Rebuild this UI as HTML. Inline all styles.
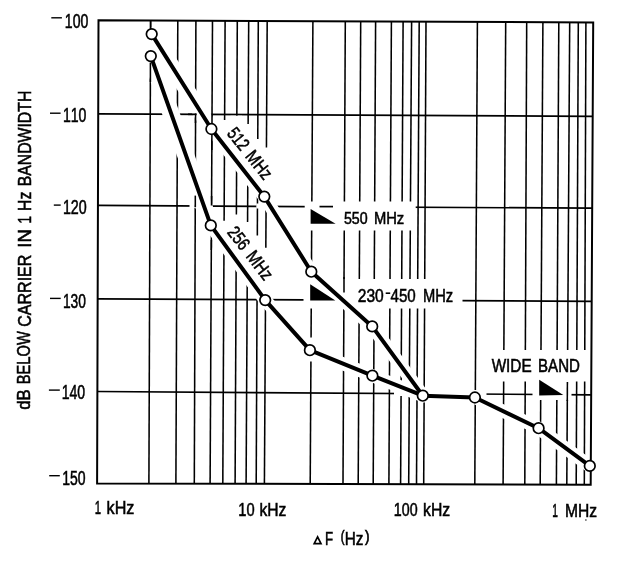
<!DOCTYPE html>
<html><head><meta charset="utf-8"><title>Phase noise</title>
<style>html,body{margin:0;padding:0;background:#fff;}body{width:617px;height:568px;overflow:hidden;font-family:"Liberation Sans",sans-serif;}svg{display:block;filter:grayscale(1);}text{font-family:"Liberation Sans",sans-serif;fill:#000;font-kerning:none;}</style>
</head><body>
<svg width="617" height="568" viewBox="0 0 617 568">
<rect x="0" y="0" width="617" height="568" fill="#fff"/>
<g stroke="#000" stroke-width="1.55" fill="none" stroke-linecap="butt">
<line x1="150.6" y1="20.4" x2="148.9" y2="483.5"/>
<line x1="177.8" y1="20.6" x2="175.9" y2="483.6"/>
<line x1="195.9" y1="20.6" x2="194.3" y2="483.7"/>
<line x1="212.5" y1="20.7" x2="210.1" y2="483.7"/>
<line x1="225.1" y1="20.8" x2="222.8" y2="483.7"/>
<line x1="237.3" y1="20.8" x2="235.1" y2="483.8"/>
<line x1="248.7" y1="20.9" x2="246.1" y2="483.8"/>
<line x1="258.3" y1="20.9" x2="256.2" y2="483.8"/>
<line x1="267.2" y1="21.0" x2="264.4" y2="483.8"/>
<line x1="312.9" y1="21.2" x2="310.2" y2="484.0"/>
<line x1="345.3" y1="21.3" x2="343.0" y2="484.0"/>
<line x1="360.7" y1="21.4" x2="358.2" y2="484.1"/>
<line x1="375.6" y1="21.4" x2="373.2" y2="484.1"/>
<line x1="391.4" y1="21.5" x2="388.9" y2="484.2"/>
<line x1="403.1" y1="21.6" x2="400.6" y2="484.2"/>
<line x1="411.6" y1="21.6" x2="408.7" y2="484.2"/>
<line x1="419.2" y1="21.6" x2="416.5" y2="484.2"/>
<line x1="426.0" y1="21.7" x2="423.7" y2="484.3"/>
<line x1="477.4" y1="21.9" x2="474.8" y2="484.4"/>
<line x1="505.7" y1="22.0" x2="503.1" y2="484.5"/>
<line x1="526.7" y1="22.1" x2="524.8" y2="484.5"/>
<line x1="542.9" y1="22.2" x2="540.2" y2="484.6"/>
<line x1="558.8" y1="22.3" x2="556.4" y2="484.6"/>
<line x1="569.7" y1="22.3" x2="566.8" y2="484.6"/>
<line x1="578.3" y1="22.3" x2="576.2" y2="484.7"/>
<line x1="585.9" y1="22.4" x2="584.3" y2="484.7"/>
<line x1="98.2" y1="113.8" x2="592.7" y2="116.4" stroke-width="1.7"/>
<line x1="97.9" y1="205.4" x2="592.2" y2="208.2" stroke-width="1.7"/>
<line x1="97.7" y1="298.9" x2="591.7" y2="301.3" stroke-width="1.7"/>
<line x1="97.4" y1="391.5" x2="591.2" y2="394.8" stroke-width="1.7"/>
</g>
<g stroke="#fff" fill="none" stroke-linejoin="round" stroke-linecap="round" stroke-width="13">
<polyline points="151.7,34.1 211.4,129.0 264.3,196.6 311.3,271.7 372.2,326.4 422.8,395.7"/>
<polyline points="150.8,56.1 210.8,225.4 265.2,300.1 309.9,350.2 372.4,375.7 422.8,395.7"/>
<polyline points="422.8,395.7 474.9,397.5 538.6,428.2 589.8,465.9"/>
<polyline points="156.0,41.0 205.0,119.0" stroke-width="16"/>
<polyline points="153.0,63.0 208.0,218.0" stroke-width="17"/>
</g>
<g fill="#fff" stroke="none">
<polygon points="218.5,120 230.5,120 230.5,115.8 242,115.8 242,124 253,124 253,139 262,139 262,147.5 272,147.5 272,203 218.5,138"/>
<polygon points="218,220.7 230,220.7 230,214.5 242,214.5 242,222 252,222 252,235.5 261.5,235.5 261.5,247.8 270,247.8 270,296 218,232"/>
<rect x="394" y="390" width="92.5" height="6"/>
<rect x="189.5" y="203" width="5.2" height="5"/>
<rect x="256.3" y="203.5" width="8.2" height="5"/>
<rect x="370" y="306" width="8" height="16"/>
<rect x="306" y="337.5" width="9" height="6"/>
<rect x="147.5" y="40" width="6.5" height="10.5"/>
<rect x="306" y="356" width="9" height="5.5"/>
<rect x="304.7" y="201.5" width="111" height="29"/>
<rect x="303.5" y="279" width="159" height="29.5"/>
<rect x="486" y="350" width="100" height="31.5"/>
<rect x="532.5" y="378" width="39" height="22"/>
</g>
<g stroke="#000" stroke-width="1.7">
<line x1="319.5" y1="206.6" x2="333" y2="206.6"/>
<line x1="567.4" y1="382.0" x2="567.3" y2="401.0" stroke-width="1.55"/>
<line x1="150.6" y1="21.0" x2="150.6" y2="29.0" stroke-width="1.55"/>
<line x1="150.4" y1="62.5" x2="150.4" y2="82.0" stroke-width="1.55"/>
<line x1="212.0" y1="114.0" x2="212.0" y2="124.0" stroke-width="1.55"/>
<line x1="211.9" y1="134.0" x2="211.8" y2="150.0" stroke-width="1.55"/>
<line x1="211.6" y1="196.0" x2="211.5" y2="205.5" stroke-width="1.55"/>
<line x1="211.4" y1="240.0" x2="211.3" y2="250.0" stroke-width="1.55"/>
<line x1="195.3" y1="195.6" x2="195.3" y2="207.0" stroke-width="1.55"/>
<line x1="344.0" y1="277.0" x2="344.0" y2="292.5" stroke-width="1.55"/>
<line x1="195.6" y1="113.6" x2="195.5" y2="123.0" stroke-width="1.55"/>
<line x1="188" y1="114.3" x2="196.6" y2="114.3" stroke-width="1.7"/>
</g>
<g stroke="#000" stroke-width="2" fill="none" stroke-linejoin="miter">
<polygon points="98.5,20.2 593.2,22.4 590.7,484.7 97.1,483.4"/>
</g>
<g stroke="#000" fill="none" stroke-width="4.0" stroke-linejoin="round" stroke-linecap="butt">
<polyline points="151.7,34.1 211.4,129.0 264.3,196.6 311.3,271.7 372.2,326.4 422.8,395.7"/>
<polyline points="150.8,56.1 210.8,225.4 265.2,300.1 309.9,350.2 372.4,375.7 422.8,395.7"/>
<polyline points="422.8,395.7 474.9,397.5 538.6,428.2 589.8,465.9"/>
</g>
<g stroke="#000" fill="#fff" stroke-width="1.7">
<circle cx="151.7" cy="34.1" r="5.3"/>
<circle cx="211.4" cy="129.0" r="5.3"/>
<circle cx="264.3" cy="196.6" r="5.3"/>
<circle cx="311.3" cy="271.7" r="5.3"/>
<circle cx="372.2" cy="326.4" r="5.3"/>
<circle cx="422.8" cy="395.7" r="5.3"/>
<circle cx="150.8" cy="56.1" r="5.3"/>
<circle cx="210.8" cy="225.4" r="5.3"/>
<circle cx="265.2" cy="300.1" r="5.3"/>
<circle cx="309.9" cy="350.2" r="5.3"/>
<circle cx="372.4" cy="375.7" r="5.3"/>
<circle cx="474.9" cy="397.5" r="5.3"/>
<circle cx="538.6" cy="428.2" r="5.3"/>
<circle cx="589.8" cy="465.9" r="5.3"/>
</g>
<g fill="#000" stroke="none">
<polygon points="310.6,209 310.6,223.8 335.6,223.8"/>
<polygon points="310.2,284.2 310.2,300.4 335.3,300.4"/>
<polygon points="539.2,379.7 539.2,395.6 563.3,395.1"/>
</g>
<text x="64.83" y="27.6" font-size="19.6" textLength="23.52" lengthAdjust="spacingAndGlyphs" stroke="#000" stroke-width="0.55" >100</text>
<line x1="51.3" y1="17.8" x2="61.9" y2="17.8" stroke="#000" stroke-width="1.4"/>
<text x="62.93" y="122.4" font-size="19.6" textLength="23.52" lengthAdjust="spacingAndGlyphs" stroke="#000" stroke-width="0.55" >110</text>
<line x1="50.0" y1="113.2" x2="60.6" y2="113.2" stroke="#000" stroke-width="1.4"/>
<text x="62.91" y="214.4" font-size="19.6" textLength="23.85" lengthAdjust="spacingAndGlyphs" stroke="#000" stroke-width="0.55" >120</text>
<line x1="53.8" y1="205.1" x2="60.7" y2="205.1" stroke="#000" stroke-width="1.4"/>
<text x="62.95" y="307.6" font-size="19.6" textLength="22.99" lengthAdjust="spacingAndGlyphs" stroke="#000" stroke-width="0.55" >130</text>
<line x1="50.0" y1="298.4" x2="60.7" y2="298.4" stroke="#000" stroke-width="1.4"/>
<text x="61.63" y="399.4" font-size="19.6" textLength="23.52" lengthAdjust="spacingAndGlyphs" stroke="#000" stroke-width="0.55" >140</text>
<line x1="48.9" y1="390.1" x2="59.8" y2="390.1" stroke="#000" stroke-width="1.4"/>
<text x="62.13" y="485.0" font-size="19.6" textLength="23.42" lengthAdjust="spacingAndGlyphs" stroke="#000" stroke-width="0.55" >150</text>
<line x1="49.2" y1="475.7" x2="59.8" y2="475.7" stroke="#000" stroke-width="1.4"/>
<text x="94.63" y="514.4" font-size="18.3" textLength="6.32" lengthAdjust="spacingAndGlyphs" stroke="#000" stroke-width="0.55" >1</text>
<text x="106.61" y="514.4" font-size="18.3" textLength="27.79" lengthAdjust="spacingAndGlyphs" stroke="#000" stroke-width="0.55" >kHz</text>
<text x="238.28" y="515.6" font-size="18.3" textLength="16.29" lengthAdjust="spacingAndGlyphs" stroke="#000" stroke-width="0.55" >10</text>
<text x="259.45" y="515.6" font-size="18.3" textLength="26.93" lengthAdjust="spacingAndGlyphs" stroke="#000" stroke-width="0.55" >kHz</text>
<text x="393.82" y="516.3" font-size="18.3" textLength="23.74" lengthAdjust="spacingAndGlyphs" stroke="#000" stroke-width="0.55" >100</text>
<text x="423.04" y="516.3" font-size="18.3" textLength="27.15" lengthAdjust="spacingAndGlyphs" stroke="#000" stroke-width="0.55" >kHz</text>
<text x="552.22" y="516.8" font-size="18.3" textLength="5.68" lengthAdjust="spacingAndGlyphs" stroke="#000" stroke-width="0.55" >1</text>
<text x="565.12" y="516.8" font-size="18.3" textLength="32.06" lengthAdjust="spacingAndGlyphs" stroke="#000" stroke-width="0.55" >MHz</text>
<circle cx="585.9" cy="520" r="0.7" fill="#000"/>
<polygon points="314.2,543.7 317.6,536.9 321.0,543.7" fill="none" stroke="#000" stroke-width="1.7" stroke-linejoin="miter"/>
<text x="324.91" y="544.6" font-size="18.3" textLength="8.12" lengthAdjust="spacingAndGlyphs" stroke="#000" stroke-width="0.55" >F</text>
<text x="344.64" y="544.6" font-size="18.3" textLength="18.72" lengthAdjust="spacingAndGlyphs" stroke="#000" stroke-width="0.55" >Hz</text>
<text x="340.80" y="541.8" font-size="15.7" textLength="3.77" lengthAdjust="spacingAndGlyphs" stroke="#000" stroke-width="0.70" >(</text>
<text x="365.12" y="541.8" font-size="15.7" textLength="4.52" lengthAdjust="spacingAndGlyphs" stroke="#000" stroke-width="0.70" >)</text>
<text x="343.93" y="224.2" font-size="17.4" textLength="23.72" lengthAdjust="spacingAndGlyphs" stroke="#000" stroke-width="0.55" >550</text>
<text x="373.89" y="224.2" font-size="17.4" textLength="30.35" lengthAdjust="spacingAndGlyphs" stroke="#000" stroke-width="0.55" >MHz</text>
<text x="357.72" y="302.0" font-size="18.6" textLength="25.99" lengthAdjust="spacingAndGlyphs" stroke="#000" stroke-width="0.55" >230</text>
<text x="390.55" y="302.0" font-size="18.6" textLength="25.24" lengthAdjust="spacingAndGlyphs" stroke="#000" stroke-width="0.55" >450</text>
<text x="422.99" y="302.0" font-size="18.6" textLength="30.24" lengthAdjust="spacingAndGlyphs" stroke="#000" stroke-width="0.55" >MHz</text>
<line x1="385.7" y1="293.2" x2="390.2" y2="293.2" stroke="#000" stroke-width="1.6"/>
<text x="491.63" y="372.1" font-size="18.2" textLength="40.03" lengthAdjust="spacingAndGlyphs" stroke="#000" stroke-width="0.55" >WIDE</text>
<text x="538.06" y="372.1" font-size="18.2" textLength="41.86" lengthAdjust="spacingAndGlyphs" stroke="#000" stroke-width="0.55" >BAND</text>
<g transform="translate(226.6,134.2) rotate(51.2)"><text x="-0.56" y="0.0" font-size="18.4" textLength="23.26" lengthAdjust="spacingAndGlyphs" stroke="#000" stroke-width="0.55" >512</text><text x="28.76" y="0.0" font-size="18.4" textLength="30.99" lengthAdjust="spacingAndGlyphs" stroke="#000" stroke-width="0.55" >MHz</text></g>
<g transform="translate(227.0,233.0) rotate(52.3)"><text x="-0.72" y="0.0" font-size="18.4" textLength="23.85" lengthAdjust="spacingAndGlyphs" stroke="#000" stroke-width="0.55" >256</text><text x="29.74" y="0.0" font-size="18.4" textLength="31.52" lengthAdjust="spacingAndGlyphs" stroke="#000" stroke-width="0.55" >MHz</text></g>
<g transform="translate(30.3,409.0) rotate(-90)"><text x="-0.70" y="0.0" font-size="18.4" textLength="20.38" lengthAdjust="spacingAndGlyphs" stroke="#000" stroke-width="0.55" >dB</text></g>
<g transform="translate(30.4,383.0) rotate(-90)"><text x="-1.20" y="0.0" font-size="18.4" textLength="52.95" lengthAdjust="spacingAndGlyphs" stroke="#000" stroke-width="0.55" >BELOW</text></g>
<g transform="translate(30.7,326.0) rotate(-90)"><text x="-0.81" y="0.0" font-size="18.4" textLength="72.16" lengthAdjust="spacingAndGlyphs" stroke="#000" stroke-width="0.55" >CARRIER</text></g>
<g transform="translate(31.0,246.0) rotate(-90)"><text x="-1.71" y="0.0" font-size="18.4" textLength="18.52" lengthAdjust="spacingAndGlyphs" stroke="#000" stroke-width="0.55" >IN</text></g>
<g transform="translate(31.1,222.5) rotate(-90)"><text x="-1.02" y="0.0" font-size="18.4" textLength="7.48" lengthAdjust="spacingAndGlyphs" stroke="#000" stroke-width="0.55" >1</text></g>
<g transform="translate(31.2,209.6) rotate(-90)"><text x="-1.29" y="0.0" font-size="18.4" textLength="19.17" lengthAdjust="spacingAndGlyphs" stroke="#000" stroke-width="0.55" >Hz</text></g>
<g transform="translate(31.3,185.0) rotate(-90)"><text x="-1.29" y="0.0" font-size="18.4" textLength="95.58" lengthAdjust="spacingAndGlyphs" stroke="#000" stroke-width="0.55" >BANDWIDTH</text></g>
</svg>
</body></html>
